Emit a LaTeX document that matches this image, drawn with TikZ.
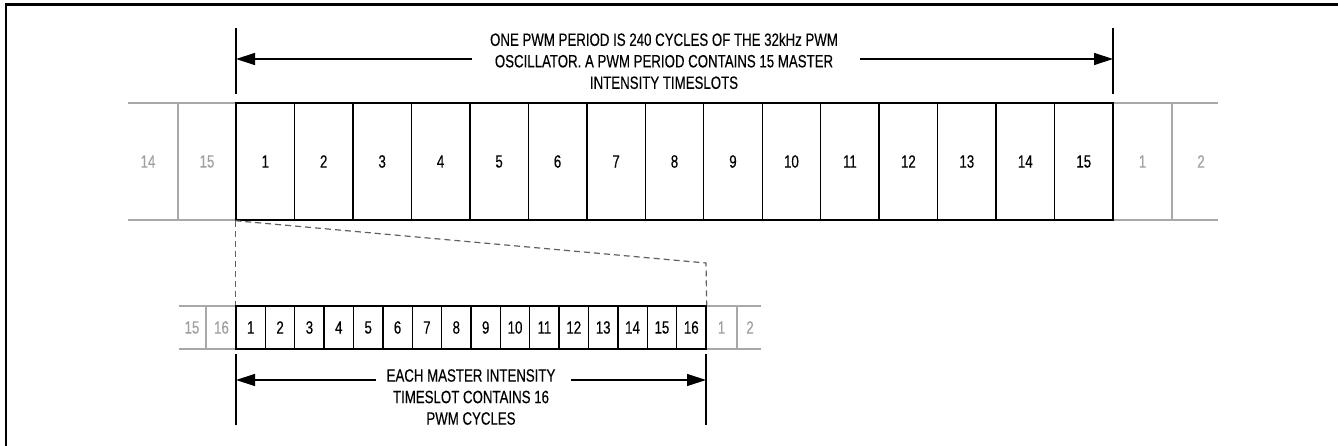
\documentclass[tikz,border=0pt]{standalone}
\usepackage{fontspec}
\setmainfont{Liberation Sans}[FakeStretch=0.745,FakeBold=0.3]
\usetikzlibrary{arrows.meta}
\definecolor{greyline}{HTML}{A8A8A8}
\definecolor{greytext}{HTML}{A0A0A0}
\definecolor{dashgrey}{HTML}{606060}
\begin{document}
\begin{tikzpicture}[x=1pt,y=-1pt,
  lbl/.style={font=\fontsize{17.8}{21.5}\selectfont, inner sep=0pt},
  bigcell/.style={draw, line width=1.4pt, minimum width=58.4667pt, minimum height=117pt, inner sep=0pt, lbl},
  smallcell/.style={draw, line width=1.4pt, minimum width=29.375pt, minimum height=43pt, inner sep=0pt, lbl},
  greyedge/.style={draw=greyline, line width=1.4pt},
  greylbl/.style={lbl, text=greytext},
  tickline/.style={line width=1.4pt},
  dimarrow/.style={line width=1.2pt, -{Triangle[length=19pt,width=12pt]}},
  dsh/.style={draw=dashgrey, line width=1.2pt, dash pattern=on 6pt off 4pt},
  note/.style={lbl, align=center}
]
\useasboundingbox (0,0) rectangle (1338,446);
% frame
\draw[line width=2.5pt] (6,446) -- (6,4.5) -- (1338,4.5);

% big row: grey neighbours
\draw[greyedge] (128,103) -- (236,103) (128,220) -- (236,220) (178,103) -- (178,220);
\draw[greyedge] (1113,103) -- (1218,103) (1113,220) -- (1218,220) (1172,103) -- (1172,220);
\node[greylbl] (g14) at (148,161.5) {14};
\node[greylbl] (g15) at (207,161.5) {15};
\node[greylbl] (g1) at (1142.5,161.5) {1};
\node[greylbl] (g2) at (1201,161.5) {2};
% big row cells
\foreach \i in {1,...,15}
  \node[bigcell] (b\i) at ({236+58.4667*(\i-0.5)},161.5) {\i};

% small row: grey neighbours
\draw[greyedge] (179,306) -- (236,306) (179,349) -- (236,349) (206,306) -- (206,349);
\draw[greyedge] (706,306) -- (761,306) (706,349) -- (761,349) (737,306) -- (737,349);
\node[greylbl] (h15) at (192,327.5) {15};
\node[greylbl] (h16) at (221.5,327.5) {16};
\node[greylbl] (h1) at (721.5,327.5) {1};
\node[greylbl] (h2) at (750,327.5) {2};
% small row cells
\foreach \i in {1,...,16}
  \node[smallcell] (s\i) at ({236+29.375*(\i-0.5)},327.5) {\i};

% dashed zoom lines
\coordinate (dk) at (706,263);
\draw[dsh] (b1.south west) -- (s1.north west);
\draw[dsh] (b1.south west) -- (dk) -- (s16.north east);

% top dimension
\coordinate (ttl) at (236,28);
\coordinate (tbl) at (236,94);
\coordinate (ttr) at (1113,28);
\coordinate (tbr) at (1113,94);
\draw[tickline] (ttl) -- (tbl);
\draw[tickline] (ttr) -- (tbr);
\coordinate (tal) at (236,59);
\coordinate (tar) at (1113,59);
\coordinate (tsl) at (472,59);
\coordinate (tsr) at (860,59);
\draw[dimarrow] (tsl) -- (tal);
\draw[dimarrow] (tsr) -- (tar);
\node[note] (toptext) at (664,61) {ONE PWM PERIOD IS 240 CYCLES OF THE 32kHz PWM\\OSCILLATOR. A PWM PERIOD CONTAINS 15 MASTER\\INTENSITY TIMESLOTS};

% bottom dimension
\coordinate (btl) at (236,354);
\coordinate (bbl) at (236,425);
\coordinate (btr) at (706,354);
\coordinate (bbr) at (706,425);
\draw[tickline] (btl) -- (bbl);
\draw[tickline] (btr) -- (bbr);
\coordinate (bal) at (236,380);
\coordinate (bar) at (706,380);
\coordinate (bsl) at (376,380);
\coordinate (bsr) at (571,380);
\draw[dimarrow] (bsl) -- (bal);
\draw[dimarrow] (bsr) -- (bar);
\node[note] (bottext) at (471,397) {EACH MASTER INTENSITY\\TIMESLOT CONTAINS 16\\PWM CYCLES};
\end{tikzpicture}
\end{document}
